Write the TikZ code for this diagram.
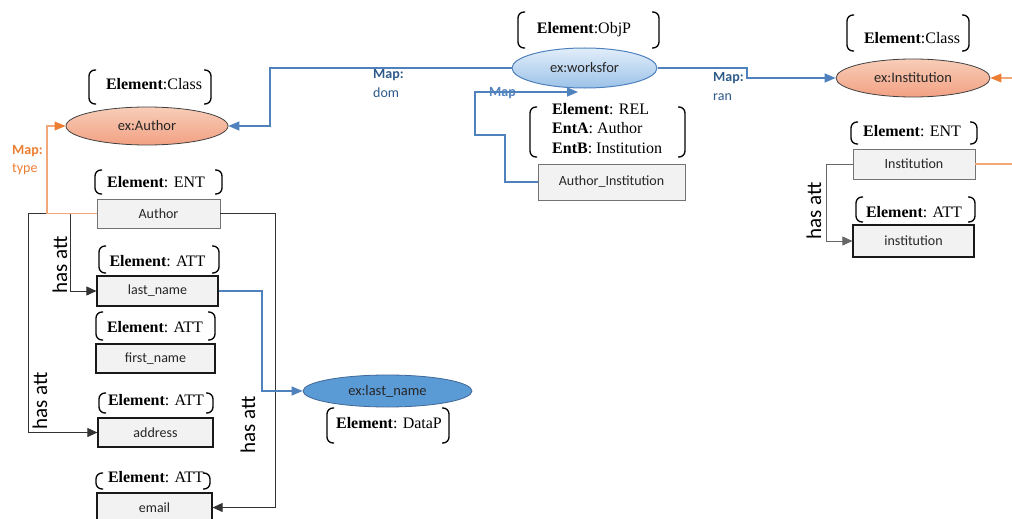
\documentclass[tikz,border=0pt]{standalone}
\usepackage{fontspec}
\setmainfont{Liberation Serif}
\newfontfamily\carl{Carlito}
\usetikzlibrary{shapes.geometric,arrows.meta}
\definecolor{salT}{HTML}{F8CDB8}
\definecolor{salB}{HTML}{F2A183}
\definecolor{lbT}{HTML}{E2EEFA}
\definecolor{lbB}{HTML}{9CC2E8}
\definecolor{midblue}{HTML}{5B9BD5}
\definecolor{bline}{HTML}{4F81BD}
\definecolor{oline}{HTML}{F0A878}
\definecolor{oarrow}{HTML}{ED7D31}
\definecolor{dblue}{HTML}{2E5A8A}
\definecolor{boxfill}{HTML}{F2F2F2}
\definecolor{txt}{HTML}{262626}
\newcommand\brk[4]{%
  \draw[brkline] (#1+7,#2) -- (#1,#2) -- (#1,#4) -- (#1+7,#4);
  \draw[brkline] (#3-7,#2) -- (#3,#2) -- (#3,#4) -- (#3-7,#4);}
\begin{document}
\begin{tikzpicture}[x=1pt,y=-1pt,
  cls/.style={ellipse, draw=black!75, line width=0.8pt, top color=salT, bottom color=salB,
    inner sep=0pt, text=txt, font=\carl\fontsize{14.5}{17}\selectfont},
  objp/.style={ellipse, draw=bline, line width=1pt, top color=lbT, bottom color=lbB,
    inner sep=0pt, text=txt, font=\carl\fontsize{14.5}{17}\selectfont},
  datap/.style={ellipse, draw=bline!80!black, line width=0.8pt, fill=midblue,
    inner sep=0pt, text=txt, font=\carl\fontsize{14.5}{17}\selectfont},
  ebox/.style={rectangle, draw=black!55, line width=0.8pt, fill=boxfill, inner sep=0pt,
    text=txt, font=\carl\fontsize{14}{17}\selectfont},
  abox/.style={ebox, draw=black!90, line width=1.2pt},
  elt/.style={inner sep=0pt, font=\fontsize{16}{19}\selectfont},
  brkline/.style={draw=black, line width=1.3pt, rounded corners=6pt},
  hasatt/.style={inner sep=0pt, rotate=90, font=\carl\fontsize{21}{24}\selectfont},
  maplbl/.style={inner sep=0pt, anchor=west, font=\carl\fontsize{14}{16}\selectfont},
  blk/.style={draw=black!80, line width=0.8pt, -{Triangle[length=10pt,width=9pt]}},
  blu/.style={draw=bline, line width=1.5pt, -{Triangle[length=11pt,width=9pt]}},
  org/.style={draw=oline, line width=1.5pt},
]
\useasboundingbox (0,0) rectangle (1012,519);

% ---------- nodes ----------
\node[cls, minimum width=162pt, minimum height=38pt] (authE) at (147,126) {ex:Author};
\node[ebox, minimum width=123pt, minimum height=29pt] (authB) at (158.5,213.5) {Author};
\node[abox, minimum width=121pt, minimum height=30pt] (lastB) at (157.5,291) {last\_name};
\node[abox, minimum width=119pt, minimum height=29pt] (firstB) at (155.5,358.5) {first\_name};
\node[abox, minimum width=115pt, minimum height=29pt] (addrB) at (155.5,432.5) {address};
\node[abox, minimum width=115pt, minimum height=29pt] (mailB) at (154.5,507.5) {email};
\node[datap, minimum width=169pt, minimum height=32pt] (lastE) at (387.5,391) {ex:last\_name};
\node[objp, minimum width=145pt, minimum height=40pt] (workE) at (584.5,68) {ex:worksfor};
\node[ebox, minimum width=147pt, minimum height=36pt] (aiB) at (611.5,182) {Author\_Institution};
\node[cls, minimum width=154pt, minimum height=38pt] (instE) at (913,78) {ex:Institution};
\node[ebox, minimum width=122pt, minimum height=30pt] (instB) at (914,164) {Institution};
\node[abox, minimum width=121pt, minimum height=32pt] (instA) at (913.5,241) {institution};

% ---------- element labels ----------
\node[elt] (tAuthC) at (154,84) {\textbf{Element}:Class};
\brk{89}{70}{211}{104}
\node[elt] (tAuthE) at (156,182) {\textbf{Element}: ENT};
\brk{95}{170}{222}{194}
\node[elt] (tLast) at (157.5,261) {\textbf{Element}: ATT};
\brk{99}{246}{219}{273}
\node[elt] (tFirst) at (155,327) {\textbf{Element}: ATT};
\brk{96}{312}{215}{340}
\node[elt] (tAddr) at (156,400) {\textbf{Element}: ATT};
\brk{99}{393}{213}{413}
\node[elt] (tMail) at (156,477) {\textbf{Element}: ATT};
\brk{96}{473}{210}{489}
\node[elt] (tData) at (389,423) {\textbf{Element}: DataP};
\brk{327}{408}{449}{443}
\node[elt] (tObj) at (584,30) {\textbf{Element}:ObjP};
\brk{518}{12}{659}{48}
\node[elt, align=left, anchor=north west, font=\fontsize{16}{19.5}\selectfont] (tRel) at (552,103)
  {\textbf{Element}: REL\\\textbf{EntA}: Author\\\textbf{EntB}: Institution};
\brk{530}{107}{685}{157}
\node[elt] (tInstC) at (912,38) {\textbf{Element}:Class};
\brk{847}{15}{969}{51}
\node[elt] (tInstE) at (912,131) {\textbf{Element}: ENT};
\brk{851}{122}{977}{144}
\node[elt] (tInstA) at (914,212) {\textbf{Element}: ATT};
\brk{856}{197}{975}{222}

% ---------- has att connectors ----------
\draw[blk] (authB.west) -- (28,213.5) -- (28,432.5) -- (addrB.west);
\draw[blk] (70,213.5) -- (70,291) -- (lastB.west);
\draw[blk] (authB.east) -- (275,213.5) -- (275,507.5) -- (mailB.east);
\draw[blk, draw=black!60] (instB.west) -- (826,164) -- (826,241) -- (instA.west);
\node[hasatt] (h1) at (60,265) {has att};
\node[hasatt] (h2) at (40,401) {has att};
\node[hasatt] (h3) at (248,425) {has att};
\node[hasatt] (h4) at (814,211) {has att};

% ---------- orange mapping ----------
\coordinate (rightO) at (1012,78);
\coordinate (rightI) at (1012,164);
\draw[org] (authB.west) -- (47,213.5) -- (47,126) -- ([xshift=-10pt]authE.west);
\fill[oarrow] (authE.west) -- ++(-11,-4.5) -- ++(0,9) -- cycle;
\draw[org] (rightO) -- ([xshift=10pt]instE.east);
\fill[oarrow] (instE.east) -- ++(11,-4.5) -- ++(0,9) -- cycle;
\draw[draw=oline, line width=1.2pt] (instB.east) -- (rightI);
\node[maplbl, text=oarrow, font=\carl\bfseries\fontsize{14}{16}\selectfont] (mT1) at (12,151) {Map:};
\node[maplbl, text=oarrow] (mT2) at (12,169) {type};

% ---------- blue mapping ----------
\coordinate (aiTip) at (578,92);
\draw[blu] (lastB.east) -- (262,291) -- (262,391) -- (lastE.west);
\draw[blu] (workE.west) -- (270,68) -- (270,126) -- (authE.east);
\draw[blu] (workE.east) -- (747,68) -- (747,78) -- (instE.west);
\draw[blu] (aiB.west) -- (505,182) -- (505,135) -- (475,135) -- (475,92) -- (aiTip);
\node[maplbl, text=dblue, font=\carl\bfseries\fontsize{14}{16}\selectfont] (mD1) at (373,75) {Map:};
\node[maplbl, text=dblue] (mD2) at (373,93) {dom};
\node[maplbl, text=dblue, font=\carl\bfseries\fontsize{14}{16}\selectfont] (mR1) at (713,78) {Map:};
\node[maplbl, text=dblue] (mR2) at (713,97) {ran};
\node[maplbl, text=bline, font=\carl\bfseries\fontsize{14}{16}\selectfont] (mA) at (489,93) {Map};
\end{tikzpicture}
\end{document}
